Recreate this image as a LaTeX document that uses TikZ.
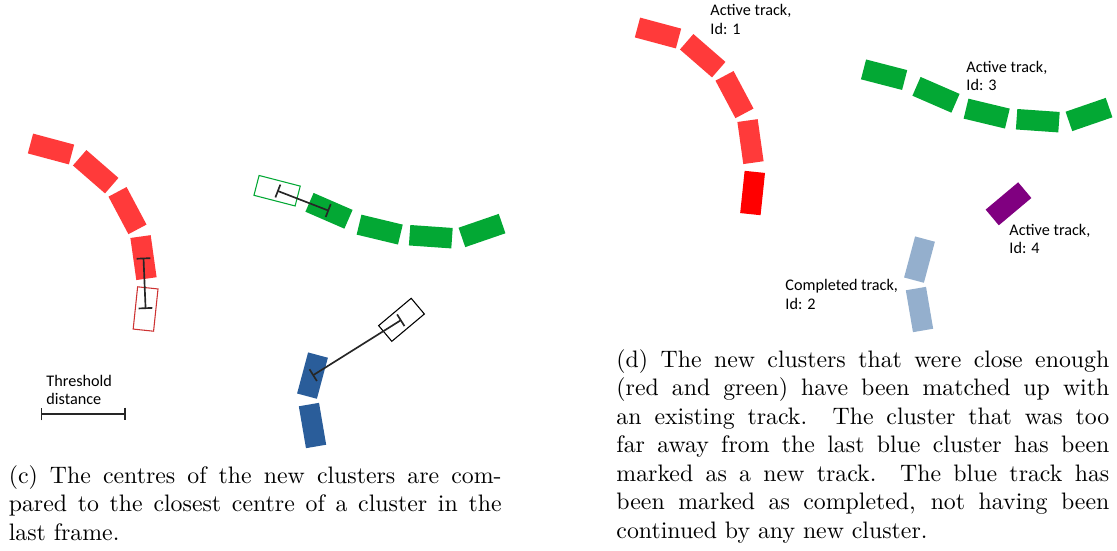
\documentclass[tikz,border=0pt]{standalone}
\usepackage{fontspec}
\newfontfamily\lblfont{Carlito}
\usetikzlibrary{arrows.meta}
\newlength\pxu
\setlength\pxu{0.42pt}
\definecolor{trkred}{RGB}{255,58,58}
\definecolor{newred}{RGB}{255,0,0}
\definecolor{outred}{RGB}{205,50,50}
\definecolor{trkgreen}{RGB}{3,168,52}
\definecolor{trkblue}{RGB}{42,93,154}
\definecolor{doneblue}{RGB}{148,175,205}
\definecolor{trkpurple}{RGB}{128,0,128}
\begin{document}
\begin{tikzpicture}[x=0.42pt,y=-0.42pt,
  clus/.style={rectangle, inner sep=0pt, outer sep=0pt,
    minimum width=42.5\pxu, minimum height=20.5\pxu},
  newclus/.style={clus, draw=#1, line width=0.45pt},
  bar/.style={draw=black!85, line width=0.7pt, arrows={Bar-Bar}},
  lbl/.style={font=\lblfont\fontsize{6.8}{7.8}\selectfont, align=left,
    anchor=base west, inner sep=0pt},
  capt/.style={text width=207pt, align=justify, anchor=base west,
    inner sep=0pt, font=\normalsize}]
\useasboundingbox (0,0) rectangle (1117,550);

% (c) last frame plus the new clusters
\node[clus, fill=trkred, rotate=-15] (r1) at (51,149) {};
\node[clus, fill=trkred, rotate=-41] (r2) at (95.7,171.7) {};
\node[clus, fill=trkred, rotate=-62] (r3) at (127.5,210.6) {};
\node[clus, fill=trkred, rotate=-82] (r4) at (143.5,257.6) {};
\node[newclus=outred, rotate=-96] (rn) at (145.6,309) {};

\node[newclus=trkgreen, rotate=-14.5] (gn) at (277.1,190.7) {};
\node[clus, fill=trkgreen, rotate=-23.5] (g1) at (329,210.8) {};
\node[clus, fill=trkgreen, rotate=-13.5] (g2) at (379.7,229.6) {};
\node[clus, fill=trkgreen, rotate=-4] (g3) at (430.8,236.7) {};
\node[clus, fill=trkgreen, rotate=19] (g4) at (482,230.5) {};

\node[clus, fill=trkblue, rotate=-105] (b1) at (312.5,375.6) {};
\node[clus, fill=trkblue, rotate=-80.3] (b2) at (312.5,425.5) {};
\node[newclus=black, rotate=40] (bn) at (401.5,319.8) {};

% distances to the closest old centre
\draw[bar] (r4.center) -- (rn.center);
\draw[bar] (gn.center) -- (g1.center);
\draw[bar] (b1.center) -- (bn.center);

\node[lbl] (thr) at (46,404.6) {Threshold\\distance};
\coordinate (t1) at (41,414);
\coordinate (t2) at (125.7,414);
\draw[bar, line width=0.6pt] (t1) -- (t2);

\node[capt] (capc) at (8.3,483) {(c) The centres of the new clusters are compared to the closest centre of a cluster in the last frame.};

% (d) tracks after matching
\begin{scope}[shift={(607,-116)}]
\node[clus, fill=trkred, rotate=-15] (dr1) at (51,149) {};
\node[clus, fill=trkred, rotate=-41] (dr2) at (95.7,171.7) {};
\node[clus, fill=trkred, rotate=-62] (dr3) at (127.5,210.6) {};
\node[clus, fill=trkred, rotate=-82] (dr4) at (143.5,257.6) {};
\node[clus, fill=newred, rotate=-96] (dr5) at (145.6,309) {};

\node[clus, fill=trkgreen, rotate=-14.5] (dg1) at (277.1,190.7) {};
\node[clus, fill=trkgreen, rotate=-23.5] (dg2) at (329,210.8) {};
\node[clus, fill=trkgreen, rotate=-13.5] (dg3) at (379.7,229.6) {};
\node[clus, fill=trkgreen, rotate=-4] (dg4) at (430.8,236.7) {};
\node[clus, fill=trkgreen, rotate=19] (dg5) at (482,230.5) {};

\node[clus, fill=doneblue, rotate=-105] (db1) at (312.5,375.6) {};
\node[clus, fill=doneblue, rotate=-80.3] (db2) at (312.5,425.5) {};
\node[clus, fill=trkpurple, rotate=40] (dp1) at (401.5,319.8) {};
\end{scope}

\node[lbl] (id1) at (710,34.3) {Active track,\\Id: 1};
\node[lbl] (id3) at (966,90.9) {Active track,\\Id: 3};
\node[lbl] (id4) at (1009,253.6) {Active track,\\Id: 4};
\node[lbl] (id2) at (785,309.3) {Completed track,\\Id: 2};

\node[capt] (capd) at (616,367) {(d) The new clusters that were close enough\linebreak
  (red and green) have been matched up with\linebreak
  an existing track. The cluster that was too\linebreak
  far away from the last blue cluster has been\linebreak
  marked as a new track. The blue track has\linebreak
  been marked as completed, not having been\linebreak
  continued by any new cluster.};
\end{tikzpicture}
\end{document}
